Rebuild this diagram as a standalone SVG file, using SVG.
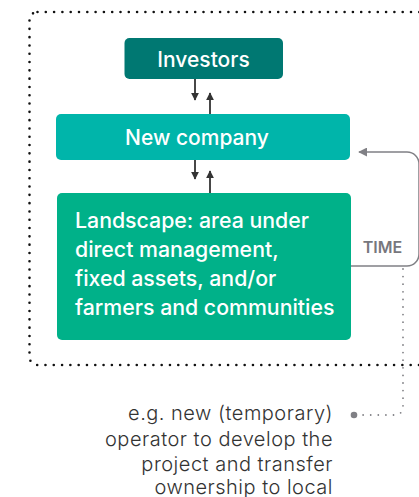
<svg xmlns="http://www.w3.org/2000/svg" width="419" height="497" viewBox="0 0 419 497">
<defs>
<style>
.box text{fill:#fff;font-family:Inter,"Liberation Sans",sans-serif;font-weight:500}
.arr{stroke:#333;stroke-width:1.8;fill:none}
.note{font-family:Inter,"Liberation Sans",sans-serif;font-weight:300;font-size:20px;letter-spacing:0.5px;fill:#333;text-anchor:end}
</style>
<marker id="ah" viewBox="0 0 10 10" refX="9" refY="5" markerWidth="8" markerHeight="8" markerUnits="userSpaceOnUse" orient="auto">
<path d="M0 0 L10 5 L0 10 z" fill="#333"/>
</marker>
<marker id="gh" viewBox="0 0 10 10" refX="9" refY="5" markerWidth="9" markerHeight="9" markerUnits="userSpaceOnUse" orient="auto">
<path d="M0 0 L10 5 L0 10 z" fill="#808085"/>
</marker>
</defs>
<rect width="419" height="497" fill="#fff"/>
<rect id="boundary" x="29.5" y="12" width="420" height="353" rx="8" fill="none" stroke="#111" stroke-width="2.6" stroke-linecap="round" stroke-dasharray="0 8.3"/>
<g id="investors" class="box">
<rect x="124.5" y="38" width="158.5" height="41" rx="5" fill="#007872"/>
<text x="203.5" y="66.5" font-size="21" text-anchor="middle">Investors</text>
</g>
<g id="new-company" class="box">
<rect x="56" y="114" width="294" height="46" rx="5" fill="#00b5aa"/>
<text x="197" y="144.5" font-size="21" text-anchor="middle">New company</text>
</g>
<g id="landscape" class="box">
<rect x="57" y="193" width="294" height="147" rx="5" fill="#00b189"/>
<text font-size="21.3">
<tspan x="75" y="228">Landscape: area under</tspan>
<tspan x="75" y="257">direct management,</tspan>
<tspan x="75" y="286">fixed assets, and/or</tspan>
<tspan x="75" y="315">farmers and communities</tspan>
</text>
</g>
<g id="connectors">
<line class="arr" x1="195" y1="79" x2="195" y2="100" marker-end="url(#ah)"/>
<line class="arr" x1="210" y1="114" x2="210" y2="93" marker-end="url(#ah)"/>
<line class="arr" x1="195" y1="160" x2="195" y2="179" marker-end="url(#ah)"/>
<line class="arr" x1="210" y1="193" x2="210" y2="171" marker-end="url(#ah)"/>
<path d="M351 266 H407 A12 12 0 0 0 419 254 V164 A12 12 0 0 0 407 152 H359" fill="none" stroke="#808085" stroke-width="1.5" marker-end="url(#gh)"/>
<path d="M403 269 V406 Q403 415 394 415 H360" fill="none" stroke="#808085" stroke-width="1.8" stroke-linecap="round" stroke-dasharray="0 7.6"/>
<circle cx="354" cy="415" r="3.3" fill="#808085"/>
</g>
<text id="time" x="382.5" y="253" font-family="Inter,'Liberation Sans',sans-serif" font-weight="600" font-size="16" fill="#77777d" text-anchor="middle">TIME</text>
<g id="note">
<text class="note" x="333" y="420">e.g. new (temporary)</text>
<text class="note" x="333" y="445.5">operator to develop the</text>
<text class="note" x="333" y="470.5">project and transfer</text>
<text class="note" x="333" y="494">ownership to local</text>
</g>
</svg>
